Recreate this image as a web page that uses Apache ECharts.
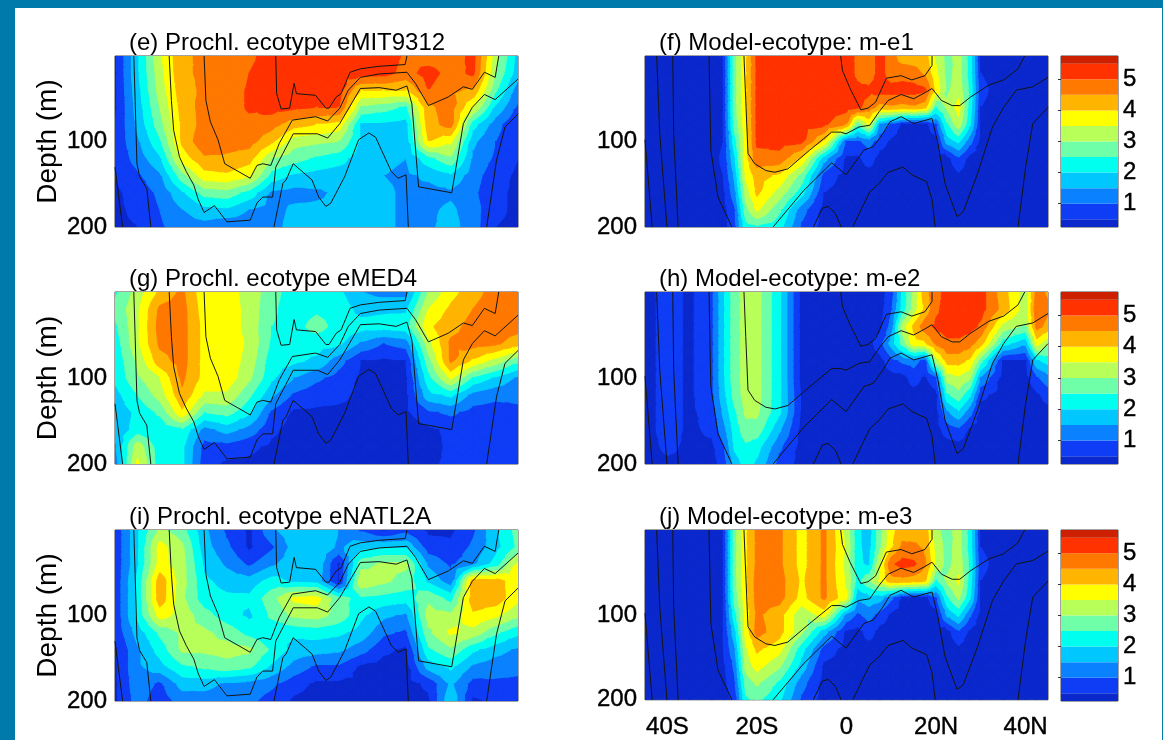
<!DOCTYPE html>
<html><head><meta charset="utf-8">
<style>html,body{margin:0;padding:0;background:#007aab;overflow:hidden}
#bg{position:absolute;left:15px;top:8px;width:1147px;height:732px;background:#fff}
#c{position:absolute;left:0;top:0;width:1163px;height:740px}</style>
<script src="https://cdn.jsdelivr.net/npm/echarts@6/dist/echarts.min.js"></script>
</head><body><div id="bg"></div><div id="c"></div>
<script>
const depths=[0,20,40,60,80,100,120,140,160,180,200];
const lonsObs=[-45,-40,-35,-30,-25,-20,-15,-10,-5,0,5,10,15,20,25,30,35,40,45];
const lonsModel=[-45,-40,-35,-30,-27.5,-25,-22.5,-20,-15,-10,-5,0,2.5,5,7.5,10,12.5,15,17.5,20,22.5,25,27.5,30,35,40,42.5,45];
const levels=[0.25,0.5,1,1.5,2,2.5,3,3.5,4,4.5,5,5.5,5.75];
const levelColors=['#0a28cc','#0f3cf5','#0a82ff','#00c8ff','#00ffee','#6effa8','#b8ff5a','#ffff00','#ffb400','#ff7800','#ff3200','#cc2000'];
const xTicks=[-40,-20,0,20,40];
const xTickLabels=['40S','20S','0','20N','40N'];
const titles=['(e) Prochl. ecotype eMIT9312','(f) Model-ecotype: m-e1','(g) Prochl. ecotype eMED4','(h) Model-ecotype: m-e2','(i) Prochl. ecotype eNATL2A','(j) Model-ecotype: m-e3'];

const panelE=[
[.4,1.9,3.4,4.4,4.6,4.8,4.9,5.2,5.2,5.2,5.2,5.3,5.3,4.9,4.7,4.7,5.15,3.2,1.8],
[.4,1.9,3.3,4.4,4.6,4.7,5.0,5.2,5.2,5.2,5.2,5.2,5.2,4.8,5.2,4.8,5.1,3.0,1.7],
[.4,1.8,3.2,4.3,4.6,4.8,5.05,5.2,5.2,5.2,5.2,4.0,4.0,4.0,5.0,4.6,4.4,2.6,1.2],
[.4,1.7,3.0,4.2,4.7,4.8,5.05,5.2,5.1,5.0,5.0,2.9,2.7,2.4,4.4,4.7,3.5,1.9,.9],
[.5,1.6,2.8,4.1,4.7,4.8,4.9,4.7,4.2,4.0,3.8,1.9,1.9,1.8,4.3,4.7,2.2,1.2,.5],
[.6,1.4,2.4,4.1,4.9,4.7,4.7,4.1,3.2,3.1,3.0,1.9,1.8,1.7,4.0,3.6,1.6,1.0,.5],
[.6,1.2,1.9,3.7,4.4,4.4,4.2,3.0,2.7,2.4,2.2,1.7,1.6,1.5,2.3,2.9,1.4,.9,.5],
[.5,.9,1.4,2.8,3.8,3.9,3.6,2.3,1.9,1.8,1.7,1.7,1.5,1.4,1.6,1.9,1.2,.7,.4],
[.4,.7,1.1,1.9,2.7,2.8,2.3,1.4,1.3,1.4,1.6,1.7,1.6,1.4,1.3,1.4,1.1,.6,.4],
[.4,.6,1,1.5,1.8,1.9,1.5,1.3,1.6,1.6,1.6,1.8,1.6,1.4,1.4,1.6,1.2,.6,.4],
[.4,.5,.9,1.3,1.3,1,1.2,1.3,1.7,1.7,1.6,1.8,1.6,1.4,1.4,1.7,1.2,.5,.4]];
const panelG=[
[2.4,3.2,4.1,4.6,3.6,3.7,3.3,2.7,2.2,2.2,2.1,1.5,1.3,1.3,3.0,3.8,4.3,4.7,4.8],
[2.6,3.4,4.6,4.7,3.7,3.8,3.3,2.6,2.2,2.4,2.3,1.8,1.9,1.9,3.5,4.1,4.5,4.8,5.0],
[2.4,3.4,4.7,4.7,3.8,3.8,3.3,2.5,2.3,2.7,2.3,2.2,2.2,2.3,3.9,4.3,4.7,4.8,4.7],
[2.2,3.4,4.6,4.7,3.8,3.8,3.4,2.4,2.2,2.2,2.1,1.4,1.0,1.2,3.3,4.6,4.7,4.6,4.2],
[2.1,3.1,4.3,4.7,3.8,3.8,3.3,2.2,2.1,1.9,1.2,.5,.4,.5,2.8,4.6,3.9,3.3,2.6],
[2.1,2.9,3.5,4.6,3.8,3.8,3.1,2.1,1.5,1.1,.8,.4,.4,.4,2.3,3.6,2.4,1.9,1.4],
[1.8,2.5,3.2,4.4,3.4,3.4,2.6,1.6,.9,.7,.6,.4,.4,.4,1.8,2.1,1.3,1.1,1.1],
[1.7,2.1,2.6,3.9,2.5,2.7,2.1,.9,.4,.4,.4,.4,.4,.4,.9,1.1,.8,.8,.9],
[1.6,2.2,2.1,2.4,1.3,1.7,1.3,.6,.3,.3,.3,.3,.3,.3,.4,.6,.7,.7,.7],
[1.4,3.3,2.2,2.1,.8,.8,.6,.4,.3,.3,.3,.3,.3,.3,.3,.6,.7,.7,.7],
[1.2,3.6,2.2,2.1,.7,.4,.4,.3,.3,.3,.3,.3,.3,.3,.4,.6,.7,.6,.8]];
const panelI=[
[.6,1.9,3.1,2.7,1.6,.9,.4,1.4,1.8,1.9,1.5,.9,.4,.8,.4,.4,.9,1.9,2.7],
[.6,1.9,3.7,3.1,1.7,1.1,.4,.9,1.7,1.9,1.4,1.8,1.9,1.9,.7,.6,1.1,1.8,2.6],
[.6,1.9,3.7,3.2,1.9,1.4,.9,1.4,1.8,1.9,.4,2.8,3.1,3.1,1.4,.9,1.4,2.2,3.6],
[.6,2.1,4.3,3.2,2.1,1.8,1.7,2.2,1.9,1.8,.4,3.4,3.1,2.8,1.9,1.2,4.3,4.2,3.7],
[.6,2.1,4.3,3.1,2.2,2.1,2.1,2.8,3.6,3.7,2.6,2.4,2.3,2.2,2.9,2.3,4.3,4.3,3.6],
[.6,2.1,3.7,3.3,2.7,2.2,1.9,2.6,3.1,3.2,2.8,2.1,1.6,1.4,3.2,3.1,3.9,3.6,3.1],
[.6,1.7,2.6,3.1,3.1,2.8,2.3,2.1,2.1,2.2,2.1,1.8,1.1,.9,2.9,3.6,3.3,2.6,2.1],
[.4,1.4,2.2,3.1,3.1,3.2,3.1,2.4,1.8,1.7,1.6,1.2,.6,.4,2.4,2.9,2.1,1.7,1.4],
[.4,1.4,1.8,2.4,2.6,2.8,2.6,1.9,1.3,.9,.9,.4,.3,.3,1.7,2.1,1.4,1.2,1.1],
[.4,1.3,.9,1.7,1.7,1.4,1.3,1.1,.7,.4,.4,.4,.3,.3,.6,1.6,.8,.9,.9],
[.4,1.2,.7,1.2,1.2,1.1,1.1,.8,.4,.3,.3,.3,.3,.3,.4,1.9,.4,.6,.7]];
const panelF=[
[.3,.3,.3,.3,.5,2.8,3.9,5.1,5.2,5.2,5.2,5.2,4.9,4.7,5.2,4.7,4.2,4.2,4.2,3.4,2.8,3.2,2.3,.4,.3,.3,.3,.3],
[.3,.3,.3,.3,.5,2.8,3.9,5.1,5.2,5.2,5.2,5.2,4.9,4.7,5.2,4.7,4.8,4.7,4.4,3.6,2.8,3.2,2.3,.5,.3,.3,.3,.3],
[.3,.3,.3,.3,.5,2.8,3.9,5.1,5.2,5.2,5.2,5.2,5.1,5.1,5.2,5.2,5.2,5.2,5.1,3.8,2.9,3.3,2.4,.6,.3,.3,.3,.3],
[.3,.3,.3,.3,.5,2.8,3.9,5.1,5.2,5.2,5.2,5.2,5.1,4.8,4.3,4.4,4.3,4.4,4.2,2.5,3.1,3.7,2.3,.5,.3,.3,.3,.3],
[.3,.3,.3,.3,.5,2.7,3.8,5.1,5.2,5.2,5.1,4.5,2.6,3.6,1.4,.9,.4,.3,.3,.9,2.5,3.3,2.1,.4,.3,.3,.3,.3],
[.3,.3,.3,.3,.5,2.3,3.7,5.1,5.2,5.1,3.9,.9,.9,1.2,.7,.4,.3,.3,.3,.3,1.7,2.1,1.2,.3,.3,.3,.3,.3],
[.3,.3,.3,.3,.6,1.9,3.8,4.8,4.8,3.9,1.7,.4,.4,.7,.3,.3,.3,.3,.3,.3,.3,.9,.3,.3,.3,.3,.3,.3],
[.3,.3,.3,.3,.5,1.6,3.6,4.2,3.9,2.8,.8,.3,.3,.3,.3,.3,.3,.3,.3,.3,.3,.4,.3,.3,.3,.3,.3,.3],
[.3,.3,.3,.3,.4,1.3,3.2,4.1,3.3,2.2,.5,.3,.3,.3,.3,.3,.3,.3,.3,.3,.3,.3,.3,.3,.3,.3,.3,.3],
[.3,.3,.3,.3,.3,.9,2.8,3.6,2.6,1.2,.3,.3,.3,.3,.3,.3,.3,.3,.3,.3,.3,.3,.3,.3,.3,.3,.3,.3],
[.3,.3,.3,.3,.3,.8,2.3,2.4,2.2,.9,.3,.3,.3,.3,.3,.3,.3,.3,.3,.3,.3,.3,.3,.3,.3,.3,.3,.3]];
const panelH=[
[.3,.7,.4,.9,1.9,2.8,3.2,3.2,2.1,.3,.3,.3,.3,.3,.3,.7,2.1,3.1,4.3,4.8,5.2,5.2,5.2,5.2,4.2,3.2,4.7,4.4],
[.3,.7,.4,.9,1.9,2.8,3.2,3.2,2.1,.3,.3,.3,.3,.3,.3,.9,2.2,3.2,4.1,4.9,5.2,5.2,5.2,5.2,4.3,3.2,4.9,4.6],
[.3,.7,.4,.9,1.9,2.8,3.2,3.2,2.1,.3,.3,.3,.3,.3,.3,1.2,3.2,4.1,4.8,5.1,5.2,5.2,5.2,4.9,3.3,2.9,4.7,4.3],
[.3,.7,.4,.9,1.9,2.8,3.2,3.2,2.1,.3,.3,.3,.3,.3,.8,1.7,2.7,3.8,3.9,4.6,4.9,4.9,4.7,4.2,2.2,1.6,3.7,3.1],
[.3,.7,.4,.9,1.9,2.8,3.2,3.2,2.1,.3,.3,.3,.3,.3,.3,.8,1.1,1.2,.8,3.2,4.2,4.2,3.9,2.7,.4,.4,1.9,2.2],
[.3,.7,.4,.9,1.9,2.8,3.2,3.2,2.1,.3,.3,.3,.3,.3,.3,.3,.3,.7,.4,.9,3.2,3.4,3.1,1.4,.3,.3,.9,1.3],
[.3,.7,.4,.9,1.8,2.7,3.2,3.2,2.1,.4,.3,.3,.3,.3,.3,.3,.3,.3,.3,.3,2.4,2.8,2.1,.6,.3,.3,.4,.7],
[.3,.7,.4,.7,1.6,2.4,3.1,3.1,2.1,.4,.3,.3,.3,.3,.3,.3,.3,.3,.3,.3,1.4,1.9,1.2,.3,.3,.3,.3,.3],
[.3,.7,.4,.6,1.3,2.2,2.8,2.8,1.6,.3,.3,.3,.3,.3,.3,.3,.3,.3,.3,.3,.7,.9,.4,.3,.3,.3,.3,.3],
[.3,.6,.4,.4,.9,2.1,2.4,2.2,1.1,.3,.3,.3,.3,.3,.3,.3,.3,.3,.3,.3,.3,.3,.3,.3,.3,.3,.3,.3],
[.3,.4,.4,.3,.7,1.7,2.2,1.9,.8,.3,.3,.3,.3,.3,.3,.3,.3,.3,.3,.3,.3,.3,.3,.3,.3,.3,.3,.3]];
const panelJ=[
[.3,.3,.3,.3,.5,2.8,3.9,4.6,4.6,3.8,4.6,3.3,2.1,1.7,2.8,3.8,4.3,4.2,4.3,3.1,2.8,3.2,2.3,.4,.3,.3,.3,.3],
[.3,.3,.3,.3,.5,2.8,3.9,4.6,4.6,3.8,4.6,3.4,2.1,1.8,2.9,3.9,4.6,4.6,4.4,3.3,2.8,3.2,2.3,.5,.3,.3,.3,.3],
[.3,.3,.3,.3,.5,2.8,3.9,4.6,4.6,3.8,4.6,3.3,2.1,1.9,3.4,4.9,5.2,5.1,4.6,3.4,2.8,3.3,2.4,.6,.3,.3,.3,.3],
[.3,.3,.3,.3,.5,2.8,3.9,4.7,4.7,3.9,4.6,3.4,2.3,2.9,3.6,4.3,4.3,4.2,4.1,2.4,3.1,3.6,2.3,.5,.3,.3,.3,.3],
[.3,.3,.3,.3,.5,2.7,3.8,4.7,4.7,3.8,4.6,3.6,1.6,1.8,1.7,1.1,.4,.3,.3,.9,2.4,3.1,2.1,.4,.3,.3,.3,.3],
[.3,.3,.3,.3,.5,2.3,3.7,4.6,4.2,3.1,3.7,1.4,.9,1.2,.8,.4,.3,.3,.3,.3,1.6,2.1,1.1,.3,.3,.3,.3,.3],
[.3,.3,.3,.3,.5,1.8,3.7,4.7,4.2,3.1,1.7,.4,.3,.7,.3,.3,.3,.3,.3,.3,.3,.9,.4,.3,.3,.3,.3,.3],
[.3,.3,.3,.3,.5,1.4,3.4,4.1,3.7,2.2,.8,.3,.3,.3,.3,.3,.3,.3,.3,.3,.3,.4,.3,.3,.3,.3,.3,.3],
[.3,.3,.3,.3,.4,1.1,3.2,3.7,3.1,1.8,.4,.3,.3,.3,.3,.3,.3,.3,.3,.3,.3,.3,.3,.3,.3,.3,.3,.3],
[.3,.3,.3,.3,.3,.9,2.7,3.1,2.4,1.2,.3,.3,.3,.3,.3,.3,.3,.3,.3,.3,.3,.3,.3,.3,.3,.3,.3,.3],
[.3,.3,.3,.3,.3,.6,2.4,2.6,2.1,.9,.3,.3,.3,.3,.3,.3,.3,.3,.3,.3,.3,.3,.3,.3,.3,.3,.3,.3]];

const obsLineA=[[-45,130],[-43.3,200]];
const obsLineB=[[-40.8,0],[-40.5,52],[-40.1,126],[-39.5,141],[-37.9,155],[-37,200]];
const obsLineC=[[-32.9,0],[-32.4,52],[-31.9,87],[-30.6,118],[-29.1,135],[-27.4,151],[-26.4,168],[-25.1,183],[-22.8,175],[-20,194],[-14.8,192],[-13.3,172],[-12,165],[-9.8,165],[-9.1,130],[-7.5,114],[-5.2,91],[.2,91],[2.5,96],[5.2,79],[9.8,38],[14,37],[17.8,40],[20.2,35],[21.3,56],[22.8,153],[30.2,160],[32.8,79],[34.8,60],[37.5,45],[39.9,51],[45,27]];
const obsLineD=[[-25.1,0],[-24.7,52],[-23.7,77],[-22,98],[-20.5,126],[-14.8,143],[-13.3,128],[-12,126],[-10.2,128],[-8.3,102],[-5.4,75],[-.2,71],[2.5,76],[5.2,61],[7.1,40],[9.8,25],[14,21],[20.2,19],[22.1,32],[25,58],[29.4,48],[32.8,36],[34.8,39],[37.5,19],[39.9,25],[40.7,0]];
const obsLineE=[[-9.1,0],[-8.9,44],[-7.9,62],[-6,61],[-5,32],[-4.5,44],[-.2,46],[2.1,61],[2.8,61],[4.4,48],[5.5,44],[7.5,19],[9.8,15],[14,12],[19.8,10],[20.2,0]];
const obsLineF=[[-9.5,200],[-7.5,149],[-6.8,145],[-5.2,126],[-1,145],[.5,165],[2.1,176],[3.2,172],[6.3,141],[9.4,98],[11.7,90],[13.2,95],[16.7,135],[18.2,143],[20,139],[20.5,200]];
const obsLineG=[[38,200],[40.2,122],[42.1,83],[45,68]];
const modelLine0=[[-45,98],[-43.4,200]];
const modelLine1=[[-42.4,0],[-41.7,91],[-40.1,200]];
const modelLine2=[[-38.8,0],[-38.6,91],[-37.6,200]];
const modelLine3=[[-30.7,0],[-30.3,110],[-28.7,165],[-25.6,200]];
const modelLine4=[[-22.9,0],[-22.5,52],[-22,114],[-20.5,126],[-18,134],[-16,136],[-13.1,132],[-8.2,110],[-3.3,89],[-1.3,89],[-.1,91],[2.8,83],[5.2,81],[7.3,65],[9.3,52],[12.2,45],[15,50],[17.5,43],[19.1,38],[21.2,52],[23.6,58],[25.3,58],[27.7,48],[31.8,34],[35.1,28],[38.3,15],[39.8,0]];
const modelLine5=[[-16.4,200],[-9.5,157],[-3.3,125],[-.1,139],[3.9,110],[6,106],[8.1,91],[9.7,77],[12.2,71],[15,79],[19.1,73],[20.4,102],[22,149],[24.7,188],[26.1,182],[29.3,137],[32.6,83],[35.1,60],[37.9,40],[41.6,36],[45,25]];
const modelLine6=[[-1.3,0],[-.9,17],[.8,38],[3.2,63],[4.8,61],[6.5,54],[8.9,26],[12.2,23],[14.6,28],[17.5,23],[19.1,11],[19.1,0]];
const modelLine7=[[-7.4,200],[-5.4,178],[-4.1,176],[-2.5,184],[-1.2,200]];
const modelLine8=[[1.4,200],[3.6,176],[5.2,159],[7.3,149],[9.3,136],[12.6,130],[14.6,139],[17.9,147],[19.1,168],[19.8,200]];
const modelLine9=[[38.3,200],[40,130],[41.6,79],[45,60]];

const obsLines=[obsLineA,obsLineB,obsLineC,obsLineD,obsLineE,obsLineF,obsLineG];
const modelLines=[modelLine0,modelLine1,modelLine2,modelLine3,modelLine4,modelLine5,modelLine6,modelLine7,modelLine8,modelLine9];

const FONT='"Liberation Sans",Arial,sans-serif';
const rowsPx=[[56,227],[292,464],[530,701]];
const colsPx=[[115,518],[645,1048]];
const panels=[[panelE,lonsObs,obsLines],[panelF,lonsModel,modelLines],[panelG,lonsObs,obsLines],[panelH,lonsModel,modelLines],[panelI,lonsObs,obsLines],[panelJ,lonsModel,modelLines]];
const heavy={textBorderColor:'#000',textBorderWidth:.4};

function clipTri(poly,lim,keepAbove){
  const out=[];
  for(let i=0;i<poly.length;i++){
    const a=poly[i],b=poly[(i+1)%poly.length];
    const ia=keepAbove?a[2]>=lim:a[2]<=lim, ib=keepAbove?b[2]>=lim:b[2]<=lim;
    if(ia)out.push(a);
    if(ia!==ib){const t=(lim-a[2])/(b[2]-a[2]);out.push([a[0]+t*(b[0]-a[0]),a[1]+t*(b[1]-a[1]),lim]);}
  }
  return out;
}
function renderCell(params,api){
  const p=[0,2,4,6].map(k=>{const q=api.coord([api.value(k),api.value(k+1)]);return [q[0],q[1],api.value(8+k/2)];});
  const c=[(p[0][0]+p[2][0])/2,(p[0][1]+p[2][1])/2,(p[0][2]+p[1][2]+p[2][2]+p[3][2])/4];
  const children=[];
  for(let t=0;t<4;t++){
    const tri=[p[t],p[(t+1)%4],c];
    for(let b=0;b<levelColors.length;b++){
      let poly=tri;
      if(b>0)poly=clipTri(poly,levels[b],true);
      if(poly.length&&b<levelColors.length-1)poly=clipTri(poly,levels[b+1],false);
      if(poly.length>2)children.push({type:'polygon',shape:{points:poly.map(q=>[q[0],q[1]])},style:{fill:levelColors[b],stroke:levelColors[b],lineWidth:1.2,lineJoin:'round'},silent:true});
    }
  }
  return {type:'group',children};
}
function renderBand(params,api){
  const a=api.coord([0,api.value(0)]),b=api.coord([1,api.value(1)]);
  return {type:'rect',shape:{x:a[0],y:b[1],width:b[0]-a[0],height:a[1]-b[1]},style:{fill:levelColors[params.dataIndex]}};
}
const grid=[],xAxis=[],yAxis=[],series=[],title=[];
panels.forEach((pn,idx)=>{
  const r=Math.floor(idx/2),c=idx%2,[vals,lons,lines]=pn;
  const [t,b]=rowsPx[r],[l,rr]=colsPx[c];
  grid.push({left:l,top:t,width:rr-l,height:b-t,show:true,borderColor:'#444',borderWidth:1,backgroundColor:'transparent'});
  const bottom=idx===5;
  xAxis.push({gridIndex:idx,type:'value',min:-45,max:45,show:bottom,axisLine:{show:false},axisTick:{show:false},splitLine:{show:false},
    axisLabel:{show:bottom,customValues:xTicks,formatter:v=>xTickLabels[xTicks.indexOf(v)],fontFamily:FONT,fontSize:24,color:'#000',margin:16,...heavy}});
  yAxis.push({gridIndex:idx,type:'value',min:0,max:200,inverse:true,axisLine:{show:false},axisTick:{show:false},splitLine:{show:false},
    name:c===0?'Depth (m)':'',nameLocation:'middle',nameGap:53,nameRotate:90,nameTextStyle:{fontFamily:FONT,fontSize:28,color:'#000'},
    axisLabel:{customValues:[100,200],fontFamily:FONT,fontSize:24,color:'#000',margin:8,verticalAlign:'middle',verticalAlignMinLabel:'middle',verticalAlignMaxLabel:'middle',padding:[5,0,0,0],...heavy}});
  title.push({text:titles[idx],left:c===0?129:659,top:t-25,padding:0,textStyle:{fontFamily:FONT,fontSize:24,fontWeight:'normal',color:'#000'}});
  const cells=[];
  for(let j=0;j<depths.length-1;j++)for(let i=0;i<lons.length-1;i++)
    cells.push([lons[i],depths[j],lons[i+1],depths[j],lons[i+1],depths[j+1],lons[i],depths[j+1],vals[j][i],vals[j][i+1],vals[j+1][i+1],vals[j+1][i]]);
  series.push({type:'custom',xAxisIndex:idx,yAxisIndex:idx,renderItem:renderCell,data:cells,encode:{x:[0,2],y:[1,5]},silent:true,progressive:0,clip:true,z:1});
  lines.forEach(d=>series.push({type:'line',xAxisIndex:idx,yAxisIndex:idx,data:d,showSymbol:false,silent:true,clip:true,z:3,lineStyle:{color:'#151515',width:1}}));
});
rowsPx.forEach((rp,i)=>{
  const g=grid.length;
  grid.push({left:1061,top:rp[0],width:57,height:rp[1]-rp[0],show:true,borderColor:'#444',borderWidth:1});
  xAxis.push({gridIndex:g,type:'value',min:0,max:1,show:false});
  yAxis.push({gridIndex:g,type:'value',min:0.25,max:5.75,position:'right',axisLine:{show:false},splitLine:{show:false},
    axisTick:{customValues:[1,2,3,4,5],inside:true,length:3,lineStyle:{color:'#333'}},
    axisLabel:{customValues:[1,2,3,4,5],fontFamily:FONT,fontSize:24,color:'#000',margin:5,padding:[11,0,0,0],...heavy}});
  series.push({type:'custom',xAxisIndex:g,yAxisIndex:g,renderItem:renderBand,data:levelColors.map((_,k)=>[levels[k],levels[k+1]]),encode:{y:[0,1]},silent:true,z:1});
});
const chart=echarts.init(document.getElementById('c'),null,{renderer:'canvas'});
chart.setOption({animation:false,backgroundColor:'transparent',title,grid,xAxis,yAxis,series});
</script></body></html>
